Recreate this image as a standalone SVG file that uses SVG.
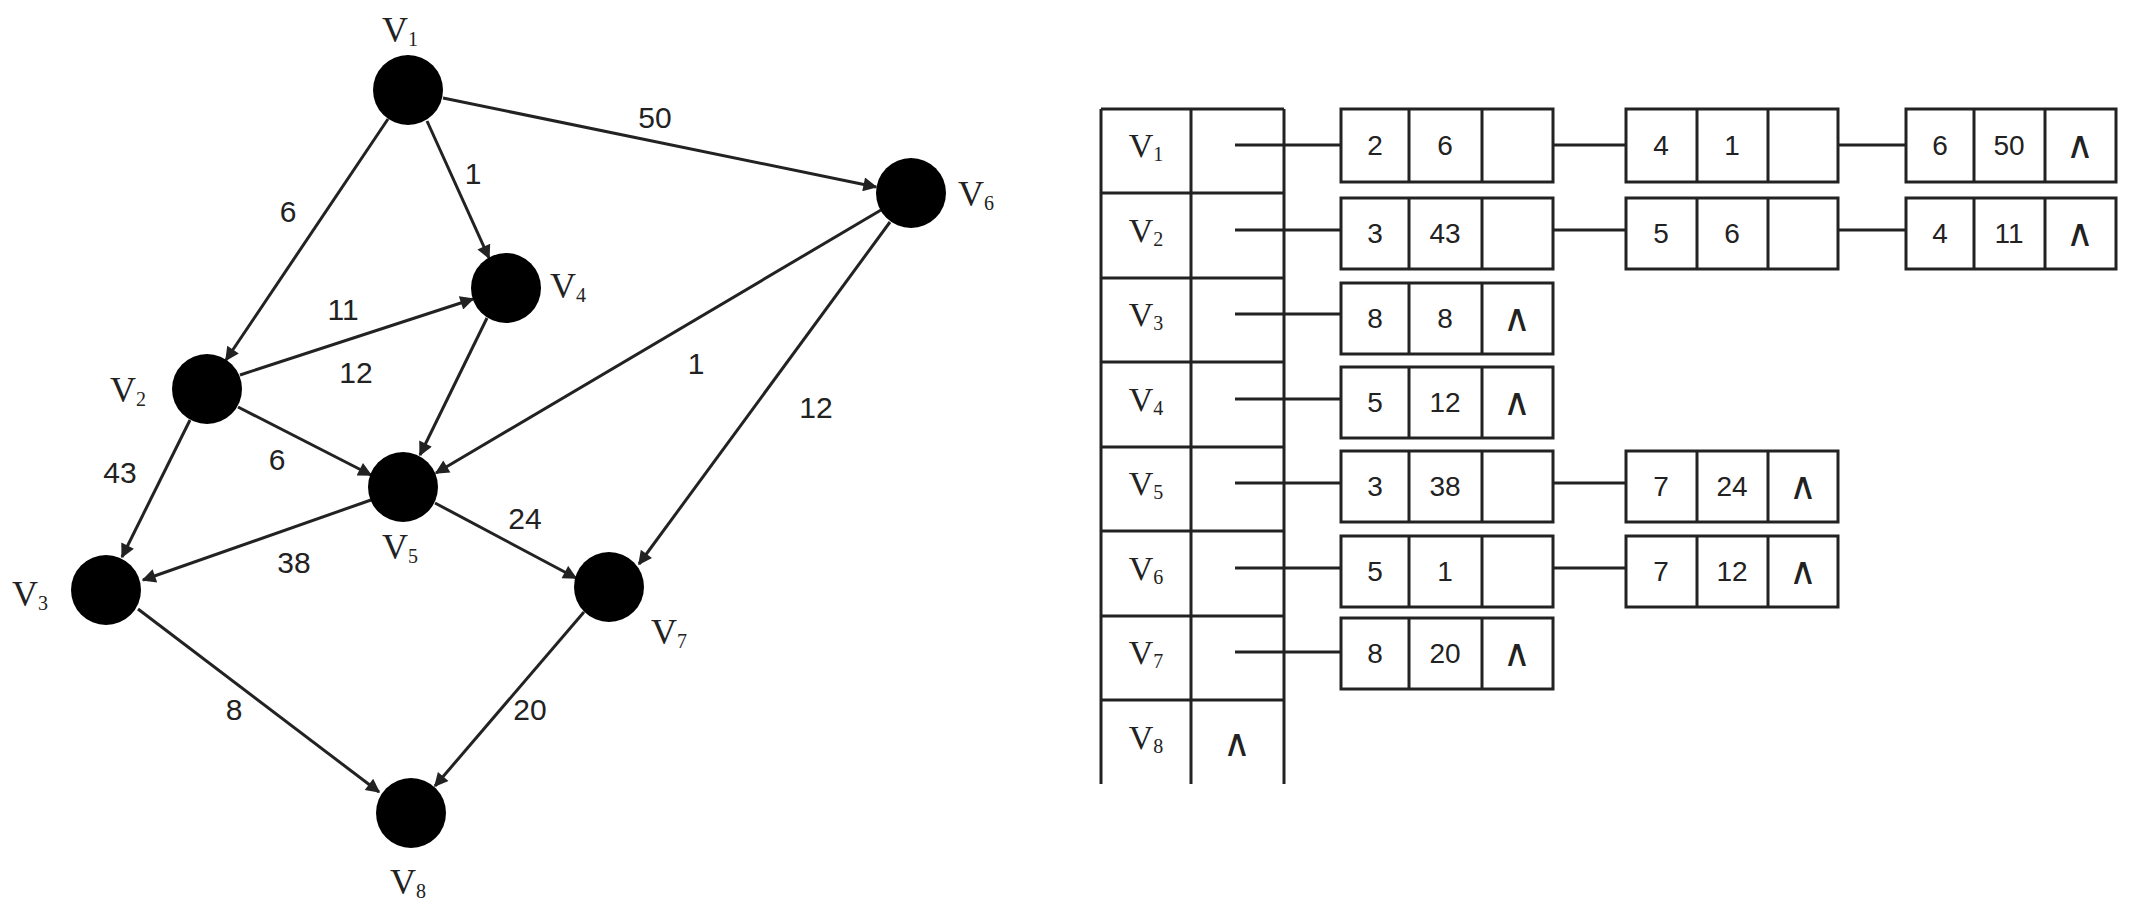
<svg xmlns="http://www.w3.org/2000/svg" width="2132" height="908" viewBox="0 0 2132 908">
<style>
text{font-family:"Liberation Serif",serif;fill:#222}
.nl{font-size:36px;text-anchor:middle}
.el{font-size:30px;text-anchor:middle;font-family:"Liberation Sans",sans-serif}
.sub{font-size:20px}
.e{stroke:#222;stroke-width:3;fill:none;marker-end:url(#a)}
.c{stroke:#222;stroke-width:3;fill:none}
.b{stroke:#222;stroke-width:3;fill:#fff}
.t{font-size:28px;text-anchor:middle;font-family:"Liberation Sans",sans-serif}
.tv{font-size:34px;text-anchor:middle}
.w{font-size:38px;text-anchor:middle;font-family:"DejaVu Sans",sans-serif}
</style>
<defs><marker id="a" viewBox="0 0 10 10" refX="9" refY="5" markerWidth="16" markerHeight="14" orient="auto" markerUnits="userSpaceOnUse"><path d="M0,0L10,5L0,10z" fill="#222"/></marker></defs>
<rect width="2132" height="908" fill="#fff"/>
<g id="connectors">
<line class="e" x1="443" y1="98" x2="876" y2="187"/>
<line class="e" x1="388" y1="119" x2="226" y2="360"/>
<line class="e" x1="427" y1="121" x2="489" y2="258"/>
<line class="e" x1="240" y1="375" x2="473" y2="299"/>
<line class="e" x1="238" y1="407" x2="371" y2="475"/>
<line class="e" x1="190" y1="420" x2="122" y2="557"/>
<line class="e" x1="487" y1="318" x2="420" y2="455"/>
<line class="e" x1="881" y1="210" x2="436" y2="473"/>
<line class="e" x1="890" y1="222" x2="639" y2="564"/>
<line class="e" x1="435" y1="503" x2="576" y2="578"/>
<line class="e" x1="371" y1="500" x2="143" y2="580"/>
<line class="e" x1="138" y1="609" x2="379" y2="792"/>
<line class="e" x1="584" y1="612" x2="435" y2="786"/>
</g>
<g id="edge-labels">
<text class="el" x="655" y="128">50</text>
<text class="el" x="288" y="222">6</text>
<text class="el" x="473" y="184">1</text>
<text class="el" x="343" y="320">11</text>
<text class="el" x="356" y="383">12</text>
<text class="el" x="120" y="483">43</text>
<text class="el" x="277" y="470">6</text>
<text class="el" x="696" y="374">1</text>
<text class="el" x="816" y="418">12</text>
<text class="el" x="525" y="529">24</text>
<text class="el" x="294" y="573">38</text>
<text class="el" x="234" y="720">8</text>
<text class="el" x="530" y="720">20</text>
</g>
<g id="v1"><circle cx="408" cy="90" r="35" fill="#000"/><text class="nl" x="400" y="42">V<tspan class="sub" dy="4">1</tspan></text></g>
<g id="v6"><circle cx="911" cy="193" r="35" fill="#000"/><text class="nl" x="976" y="206">V<tspan class="sub" dy="4">6</tspan></text></g>
<g id="v4"><circle cx="506" cy="288" r="35" fill="#000"/><text class="nl" x="568" y="298">V<tspan class="sub" dy="4">4</tspan></text></g>
<g id="v2"><circle cx="207" cy="389" r="35" fill="#000"/><text class="nl" x="128" y="402">V<tspan class="sub" dy="4">2</tspan></text></g>
<g id="v5"><circle cx="403" cy="487" r="35" fill="#000"/><text class="nl" x="400" y="559">V<tspan class="sub" dy="4">5</tspan></text></g>
<g id="v3"><circle cx="106" cy="590" r="35" fill="#000"/><text class="nl" x="30" y="606">V<tspan class="sub" dy="4">3</tspan></text></g>
<g id="v7"><circle cx="609" cy="587" r="35" fill="#000"/><text class="nl" x="669" y="644">V<tspan class="sub" dy="4">7</tspan></text></g>
<g id="v8"><circle cx="411" cy="813" r="35" fill="#000"/><text class="nl" x="408" y="894">V<tspan class="sub" dy="4">8</tspan></text></g>

<g id="table">
<path class="c" d="M1101,109H1284M1101,193H1284M1101,278H1284M1101,362H1284M1101,447H1284M1101,531H1284M1101,616H1284M1101,700H1284M1101,109V784M1191,109V784M1284,109V784"/>
<g>
<text class="tv" x="1146" y="157">V<tspan class="sub" dy="4">1</tspan></text>
<text class="tv" x="1146" y="242">V<tspan class="sub" dy="4">2</tspan></text>
<text class="tv" x="1146" y="326">V<tspan class="sub" dy="4">3</tspan></text>
<text class="tv" x="1146" y="411">V<tspan class="sub" dy="4">4</tspan></text>
<text class="tv" x="1146" y="495">V<tspan class="sub" dy="4">5</tspan></text>
<text class="tv" x="1146" y="580">V<tspan class="sub" dy="4">6</tspan></text>
<text class="tv" x="1146" y="664">V<tspan class="sub" dy="4">7</tspan></text>
<text class="tv" x="1146" y="749">V<tspan class="sub" dy="4">8</tspan></text>
<text class="w" x="1237" y="756">∧</text>
</g>
</g>
<g id="links">
<path class="c" d="M1235,145H1341M1512,145H1626M1795,145H1906M1235,230H1341M1512,230H1626M1795,230H1906M1235,314H1341M1235,399H1341M1235,483H1341M1512,483H1626M1235,568H1341M1512,568H1626M1235,652H1341"/>
</g>
<g id="list1">
<rect class="b" x="1341" y="109" width="212" height="73"/><path class="c" d="M1409,109V182M1482,109V182"/>
<text class="t" x="1375" y="155">2</text><text class="t" x="1445" y="155">6</text>
<rect class="b" x="1626" y="109" width="212" height="73"/><path class="c" d="M1697,109V182M1768,109V182"/>
<text class="t" x="1661" y="155">4</text><text class="t" x="1732" y="155">1</text>
<rect class="b" x="1906" y="109" width="210" height="73"/><path class="c" d="M1974,109V182M2045,109V182"/>
<text class="t" x="1940" y="155">6</text><text class="t" x="2009" y="155">50</text><text class="w" x="2080" y="158">∧</text>
</g>
<g id="list2">
<rect class="b" x="1341" y="198" width="212" height="71"/><path class="c" d="M1409,198V269M1482,198V269"/>
<text class="t" x="1375" y="243">3</text><text class="t" x="1445" y="243">43</text>
<rect class="b" x="1626" y="198" width="212" height="71"/><path class="c" d="M1697,198V269M1768,198V269"/>
<text class="t" x="1661" y="243">5</text><text class="t" x="1732" y="243">6</text>
<rect class="b" x="1906" y="198" width="210" height="71"/><path class="c" d="M1974,198V269M2045,198V269"/>
<text class="t" x="1940" y="243">4</text><text class="t" x="2009" y="243">11</text><text class="w" x="2080" y="246">∧</text>
</g>
<g id="list3">
<rect class="b" x="1341" y="283" width="212" height="71"/><path class="c" d="M1409,283V354M1482,283V354"/>
<text class="t" x="1375" y="328">8</text><text class="t" x="1445" y="328">8</text><text class="w" x="1517" y="331">∧</text>
</g>
<g id="list4">
<rect class="b" x="1341" y="367" width="212" height="71"/><path class="c" d="M1409,367V438M1482,367V438"/>
<text class="t" x="1375" y="412">5</text><text class="t" x="1445" y="412">12</text><text class="w" x="1517" y="415">∧</text>
</g>
<g id="list5">
<rect class="b" x="1341" y="451" width="212" height="71"/><path class="c" d="M1409,451V522M1482,451V522"/>
<text class="t" x="1375" y="496">3</text><text class="t" x="1445" y="496">38</text>
<rect class="b" x="1626" y="451" width="212" height="71"/><path class="c" d="M1697,451V522M1768,451V522"/>
<text class="t" x="1661" y="496">7</text><text class="t" x="1732" y="496">24</text><text class="w" x="1803" y="499">∧</text>
</g>
<g id="list6">
<rect class="b" x="1341" y="536" width="212" height="71"/><path class="c" d="M1409,536V607M1482,536V607"/>
<text class="t" x="1375" y="581">5</text><text class="t" x="1445" y="581">1</text>
<rect class="b" x="1626" y="536" width="212" height="71"/><path class="c" d="M1697,536V607M1768,536V607"/>
<text class="t" x="1661" y="581">7</text><text class="t" x="1732" y="581">12</text><text class="w" x="1803" y="584">∧</text>
</g>
<g id="list7">
<rect class="b" x="1341" y="618" width="212" height="71"/><path class="c" d="M1409,618V689M1482,618V689"/>
<text class="t" x="1375" y="663">8</text><text class="t" x="1445" y="663">20</text><text class="w" x="1517" y="666">∧</text>
</g>
</svg>
